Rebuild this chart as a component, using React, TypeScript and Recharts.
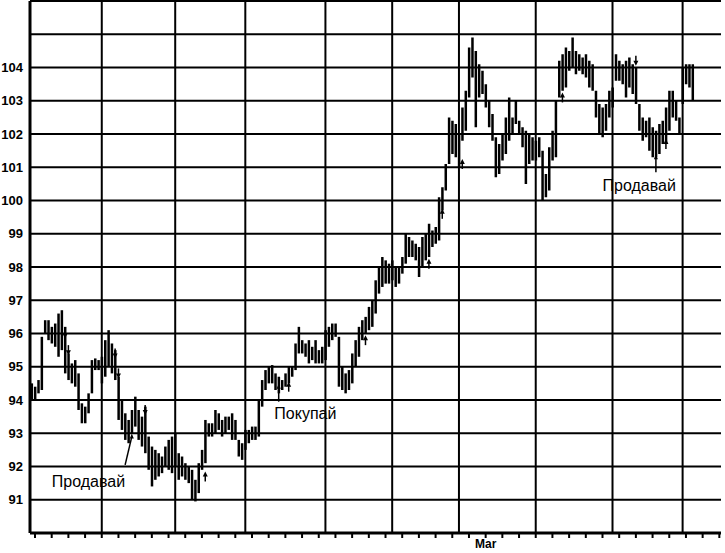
import { ComposedChart, Bar, XAxis, YAxis, CartesianGrid, ReferenceLine, ReferenceDot } from "recharts";

// daily high / low (one bar per trading day)
const highs = [
  94.5, 94.4, 94.6, 95.9, 96.4, 96.4, 96.2, 96.3, 96.6, 96.7,
  96.2, 95.4, 95.1, 95.2, 94.8, 93.9, 93.8, 94.2, 95.2, 95.25,
  95.2, 95.3, 95.8, 96.1, 95.7, 95.5, 94.7, 94.0, 93.6, 93.4,
  93.7, 94.1, 93.7, 93.5, 93.8, 92.9, 92.6, 92.5, 92.4, 92.3,
  92.6, 92.8, 92.9, 93.0, 92.4, 92.3, 92.1, 92.0, 91.9, 91.6,
  92.1, 92.5, 93.4, 93.3, 93.3, 93.7, 93.6, 93.4, 93.5, 93.5,
  93.6, 93.4, 92.8, 92.7, 93.1, 93.1, 93.2, 93.2, 94.0, 94.6,
  94.9, 95.0, 95.05, 94.8, 94.7, 94.6, 94.8, 95.0, 95.0, 95.7,
  96.2, 95.8, 95.7, 95.8, 95.6, 95.8, 95.5, 95.6, 96.1, 96.2,
  96.3, 96.3, 95.9, 95.0, 94.8, 94.9, 95.4, 95.8, 96.2, 96.4,
  96.5, 96.8, 97.0, 97.6, 98.0, 98.3, 98.2, 98.1, 98.2, 98.0,
  98.0, 98.3, 99.0, 98.9, 98.8, 98.7, 98.6, 98.9, 99.0, 99.3,
  99.1, 99.2, 100.1, 100.4, 101.1, 102.5, 102.4, 102.3, 102.0, 102.8,
  103.3, 104.6, 104.9, 104.5, 104.1, 103.9, 103.5, 103.0, 102.6, 101.9,
  101.7, 102.0, 102.5, 103.1, 102.5, 103.0, 102.4, 102.2, 102.1, 102.0,
  101.9, 101.8, 101.9, 101.5, 100.8, 101.6, 102.1, 103.0, 104.2, 104.4,
  104.6, 104.5, 104.9, 104.5, 104.4, 104.3, 104.4, 104.2, 104.1, 103.3,
  102.9, 102.8, 102.9, 103.3, 103.4, 104.4, 104.2, 104.1, 104.2, 104.3,
  104.1, 104.0, 102.9, 102.5, 102.4, 102.5, 102.2, 102.1, 102.3, 102.4,
  102.8, 103.3, 103.3, 103.0, 102.5, 104.0, 104.1, 104.1, 104.1,
];
const lows = [
  94.0, 94.0, 94.2, 94.3, 96.0, 95.8, 95.7, 95.6, 95.3, 95.5,
  94.8, 94.6, 94.5, 94.4, 93.7, 93.3, 93.3, 93.6, 94.2, 94.9,
  94.9, 94.5, 94.7, 95.0, 94.8, 94.6, 93.4, 93.1, 92.8, 92.7,
  93.0, 93.2, 92.8, 92.6, 92.4, 91.9, 91.4, 91.6, 91.7, 91.8,
  92.0, 91.9, 91.8, 92.0, 91.6, 91.7, 91.6, 91.5, 91.0, 90.95,
  91.2, 91.9, 92.1, 92.9, 92.9, 93.0, 93.1, 92.9, 93.0, 93.1,
  92.8, 92.8, 92.3, 92.2, 92.5, 92.7, 92.8, 92.8, 92.9, 93.8,
  94.3, 94.5, 94.5, 94.3, 94.2, 94.3, 94.4, 94.5, 94.7, 94.9,
  95.4, 95.4, 95.3, 95.1, 95.2, 95.1, 95.1, 95.1, 95.2, 95.6,
  95.8, 95.9, 94.4, 94.3, 94.2, 94.3, 94.5, 95.0, 95.3, 95.8,
  96.0, 96.1, 96.2, 96.6, 97.2, 97.4, 97.5, 97.5, 97.6, 97.4,
  97.5, 97.8, 98.1, 98.3, 98.3, 98.2, 97.7, 98.0, 98.2, 98.3,
  98.6, 98.7, 98.8, 99.7, 100.3, 101.1, 101.4, 101.3, 101.0, 101.8,
  102.1, 103.1, 103.7, 102.2, 103.1, 103.2, 102.8, 102.2, 101.8, 100.7,
  100.8, 101.2, 101.4, 101.8, 102.0, 102.3, 102.0, 101.6, 100.5, 101.1,
  101.2, 101.2, 101.3, 100.0, 100.1, 100.3, 101.2, 101.3, 103.1, 103.3,
  103.4, 103.9, 104.0, 103.8, 103.9, 103.8, 103.7, 103.4, 103.3, 102.5,
  102.0, 101.9, 102.1, 102.5, 102.8, 103.6, 103.6, 103.5, 103.1, 103.4,
  103.2, 102.9, 102.1, 101.8, 101.9, 101.5, 101.3, 101.3, 101.4, 101.7,
  101.7, 102.1, 102.5, 102.4, 102.0, 102.9, 103.5, 103.4, 103.0,
];

const SLOTS = 207;
const priceTicks = [90, 91, 92, 93, 94, 95, 96, 97, 98, 99, 100, 101, 102, 103, 104, 105, 106];
const monthLines = [21, 43, 64, 88, 108, 128, 151, 174, 195];
const weekTicks = [
  1, 6, 11, 16, 21, 26, 31, 36, 41, 46, 51, 56, 61, 66, 71, 76, 81, 86, 91, 96, 101,
  106, 111, 116, 121, 126, 131, 136, 141, 146, 151, 156, 161, 166, 171, 176, 181, 186, 191, 196, 201, 206,
];
const monthLabel = { at: 136, text: "Mar" };

const signals = [
  { i: 10, p: 96.0, dir: "down" }, { i: 11, p: 95.5, dir: "down" },
  { i: 25, p: 95.4, dir: "down" }, { i: 26, p: 94.8, dir: "down" },
  { i: 34, p: 93.7, dir: "down" }, { i: 52, p: 91.7, dir: "up" },
  { i: 77, p: 94.4, dir: "up" }, { i: 100, p: 95.8, dir: "up" },
  { i: 119, p: 98.1, dir: "up" }, { i: 123, p: 99.6, dir: "up" },
  { i: 129, p: 101.1, dir: "up" }, { i: 159, p: 103.1, dir: "up" },
  { i: 181, p: 104.2, dir: "down" }, { i: 190, p: 101.7, dir: "up" },
];
const notes = [
  { text: "Продавай", i: 17, p: 91.55 },
  { text: "Покупай", i: 82, p: 93.6 },
  { text: "Продавай", i: 182, p: 100.45 },
];
const pointers = [
  { x1: 28, y1: 92.05, x2: 30, y2: 92.9 },
  { x1: 74, y1: 93.95, x2: 74, y2: 94.4 },
  { x1: 187, y1: 100.85, x2: 187, y2: 101.3 },
];

const rows = Array.from({ length: SLOTS }, (_, i) => ({
  i,
  range: i < highs.length ? [lows[i], highs[i]] : null,
}));

const Stick = (p: any) => {
  if (!p.payload || !p.payload.range) return <g />;
  const cx = p.x + p.width / 2;
  const top = Math.min(p.y, p.y + p.height);
  const h = Math.abs(p.height);
  return <line x1={cx} x2={cx} y1={top} y2={top + h} stroke="#000" strokeWidth={2.5} />;
};

const arrow = (dir: string) => (p: any) => {
  const { cx, cy } = p;
  if (dir === "up") {
    return (
      <g>
        <line x1={cx} x2={cx} y1={cy - 1} y2={cy + 5} stroke="#000" strokeWidth={1.5} />
        <polygon points={`${cx},${cy - 5} ${cx - 2.5},${cy} ${cx + 2.5},${cy}`} fill="#000" />
      </g>
    );
  }
  return (
    <g>
      <line x1={cx} x2={cx} y1={cy - 5} y2={cy + 1} stroke="#000" strokeWidth={1.5} />
      <polygon points={`${cx},${cy + 5} ${cx - 2.5},${cy} ${cx + 2.5},${cy}`} fill="#000" />
    </g>
  );
};

const head = (p: any) => (
  <polygon points={`${p.cx},${p.cy - 3} ${p.cx - 2},${p.cy + 2} ${p.cx + 2},${p.cy + 2}`} fill="#000" />
);

const note = (text: string) => (p: any) => (
  <text x={p.cx} y={p.cy} textAnchor="middle" dominantBaseline="central" fontSize={16} fill="#000"
    fontFamily="'Liberation Sans', Arial, sans-serif">{text}</text>
);

export default function App() {
  return (
    <div style={{ position: "absolute", left: 0, top: 0, width: 725, height: 553, background: "#fff",
      fontFamily: "'Liberation Sans', Arial, sans-serif" }}>
      <ComposedChart width={725} height={553} data={rows} margin={{ top: 1, right: 4, bottom: 0, left: 0 }}>
        <CartesianGrid vertical={false} stroke="#000" strokeWidth={2} />
        <XAxis dataKey="i" type="category" ticks={weekTicks} interval={0} height={20}
          tickFormatter={(v) => (v === monthLabel.at ? monthLabel.text : "")}
          axisLine={{ stroke: "#000", strokeWidth: 3 }} tickLine={{ stroke: "#000", strokeWidth: 2 }}
          tickSize={5} tickMargin={1} tick={{ fill: "#000", fontSize: 12, fontWeight: 700 }} />
        <YAxis type="number" domain={[90, 106]} ticks={priceTicks} interval={0} width={30}
          tickFormatter={(v) => (v > 90 && v < 105 ? String(v) : "")}
          axisLine={{ stroke: "#000", strokeWidth: 3 }} tickLine={false} tickSize={6} tickMargin={1}
          tick={{ fill: "#000", fontSize: 13, fontWeight: 700 }} allowDataOverflow />
        <YAxis yAxisId="r" orientation="right" type="number" domain={[90, 106]} width={0}
          tick={false} tickLine={false} axisLine={{ stroke: "#000", strokeWidth: 3 }} />
        {monthLines.map((m) => (
          <ReferenceLine key={m} x={m} stroke="#000" strokeWidth={2} />
        ))}
        <Bar dataKey="range" shape={Stick} isAnimationActive={false} />
        {signals.map((s, k) => (
          <ReferenceDot key={"s" + k} x={s.i} y={s.p} r={0} shape={arrow(s.dir)} />
        ))}
        {pointers.map((l, k) => (
          <ReferenceLine key={"l" + k} segment={[{ x: l.x1, y: l.y1 }, { x: l.x2, y: l.y2 }]}
            stroke="#000" strokeWidth={1.5} />
        ))}
        {pointers.map((l, k) => (
          <ReferenceDot key={"h" + k} x={l.x2} y={l.y2} r={0} shape={head} />
        ))}
        {notes.map((n, k) => (
          <ReferenceDot key={"n" + k} x={n.i} y={n.p} r={0} shape={note(n.text)} />
        ))}
      </ComposedChart>
    </div>
  );
}
